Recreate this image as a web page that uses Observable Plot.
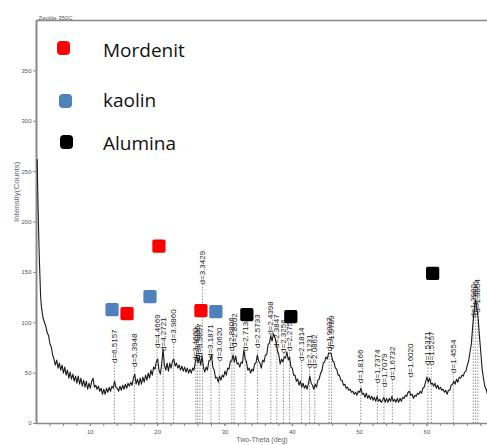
<!DOCTYPE html>
<html><head><meta charset="utf-8">
<script src="https://cdn.jsdelivr.net/npm/d3@7"></script>
<script src="https://cdn.jsdelivr.net/npm/@observablehq/plot@0.6"></script>
<style>
body{margin:0;background:#fff;}
#wrap{position:relative;width:487px;height:445px;overflow:hidden;}
.lg-mark{position:absolute;width:13px;height:14px;border-radius:4px;}
.lg-text{position:absolute;left:103px;font-family:"Open Sans",sans-serif;font-size:19px;line-height:20px;color:#111;white-space:nowrap;}
</style></head><body><div id="wrap"></div>
<script>
const title = "Zeolite 350C";
const xLabel = "Two-Theta (deg)";
const yLabel = "Intensity(Counts)";
const xTicks = [10, 20, 30, 40, 50, 60];
const xMinorTicks = [4,6,8,10,12,14,16,18,20,22,24,26,28,30,32,34,36,38,40,42,44,46,48,50,52,54,56,58,60,62,64,66,68];
const yTicks = [0, 50, 100, 150, 200, 250, 300, 350];

// XRD pattern [2theta, counts]
const pattern = [
[2.1,262],[2.2,225],[2.3,195],[2.4,168],[2.5,148],[2.6,128],[2.7,118],[2.85,110],[3.0,104],[3.2,100],
[3.4,96],[3.6,90],[3.8,87],[4.0,79],[4.2,76],[4.4,68],[4.6,64],[4.8,58],[5.0,63],[5.2,55],
[5.4,60],[5.6,53],[5.8,58],[6.0,50],[6.2,56],[6.4,48],[6.6,53],[6.8,45],[7.0,51],[7.2,44],
[7.4,49],[7.6,42],[7.8,47],[8.0,40],[8.2,47],[8.4,39],[8.6,45],[8.8,37],[9.0,43],[9.2,36],
[9.4,42],[9.6,34],[9.8,40],[10.0,35],[10.2,42],[10.4,45],[10.6,36],[10.8,38],[11.0,34],[11.2,37],
[11.4,32],[11.6,35],[11.8,29],[12.0,34],[12.2,29],[12.4,35],[12.6,31],[12.8,36],[13.0,32],[13.2,37],
[13.4,35],[13.6,42],[13.8,36],[14.0,35],[14.2,32],[14.4,37],[14.6,33],[14.8,38],[15.0,34],[15.2,39],
[15.4,35],[15.6,40],[15.8,37],[16.0,41],[16.2,38],[16.4,45],[16.6,49],[16.8,39],[17.0,44],[17.2,38],
[17.4,45],[17.6,39],[17.8,46],[18.0,41],[18.2,48],[18.4,43],[18.6,50],[18.8,45],[19.0,53],[19.2,48],
[19.4,56],[19.6,54],[19.8,61],[20.0,64],[20.2,53],[20.4,49],[20.6,59],[20.8,74],[21.0,58],[21.2,53],
[21.4,60],[21.6,52],[21.8,60],[22.0,55],[22.2,62],[22.4,64],[22.6,57],[22.8,60],[23.0,55],[23.2,58],
[23.4,53],[23.6,57],[23.8,52],[24.0,56],[24.2,51],[24.4,55],[24.6,50],[24.8,54],[25.0,50],[25.2,55],
[25.4,53],[25.6,61],[25.8,68],[26.0,60],[26.2,66],[26.4,58],[26.6,67],[26.8,56],[27.0,51],[27.2,56],
[27.4,53],[27.6,62],[27.8,63],[28.0,68],[28.2,56],[28.4,53],[28.6,45],[28.8,46],[29.0,41],[29.2,47],
[29.4,43],[29.6,48],[29.8,46],[30.0,52],[30.2,48],[30.4,55],[30.6,54],[30.8,62],[31.0,62],[31.2,68],
[31.4,61],[31.6,67],[31.8,59],[32.0,60],[32.2,56],[32.4,61],[32.6,60],[32.8,73],[33.0,64],[33.2,61],
[33.4,53],[33.6,55],[33.8,50],[34.0,54],[34.2,52],[34.4,59],[34.6,60],[34.8,68],[35.0,62],[35.2,60],
[35.4,55],[35.6,63],[35.8,61],[36.0,68],[36.2,68],[36.4,78],[36.6,80],[36.8,87],[37.0,82],[37.2,89],
[37.4,86],[37.6,81],[37.8,72],[38.0,68],[38.2,59],[38.4,64],[38.6,61],[38.8,66],[39.0,65],[39.2,71],
[39.4,63],[39.6,66],[39.8,56],[40.0,55],[40.2,48],[40.4,48],[40.6,42],[40.8,44],[41.0,38],[41.2,42],
[41.4,36],[41.6,40],[41.8,35],[42.0,38],[42.2,34],[42.4,40],[42.6,47],[42.8,40],[43.0,38],[43.2,34],
[43.4,39],[43.6,36],[43.8,43],[44.0,44],[44.2,50],[44.4,52],[44.6,60],[44.8,61],[45.0,66],[45.2,64],
[45.4,70],[45.6,70],[45.8,69],[46.0,62],[46.2,61],[46.4,55],[46.6,54],[46.8,48],[47.0,48],[47.2,43],
[47.4,43],[47.6,38],[47.8,39],[48.0,35],[48.2,36],[48.4,33],[48.6,34],[48.8,31],[49.0,32],[49.2,29],
[49.4,31],[49.6,28],[49.8,32],[50.0,31],[50.2,35],[50.4,29],[50.6,30],[50.8,26],[51.0,30],[51.2,25],
[51.4,28],[51.6,24],[51.8,27],[52.0,23],[52.2,26],[52.4,22],[52.6,27],[52.8,22],[53.0,24],[53.2,21],
[53.4,23],[53.6,26],[53.8,21],[54.0,25],[54.2,21],[54.4,25],[54.6,22],[54.8,27],[55.0,22],[55.2,24],
[55.4,21],[55.6,25],[55.8,21],[56.0,25],[56.2,22],[56.4,26],[56.6,25],[56.8,28],[57.0,27],[57.2,31],
[57.4,32],[57.6,28],[57.8,29],[58.0,25],[58.2,28],[58.4,27],[58.6,30],[58.8,29],[59.0,32],[59.2,30],
[59.4,35],[59.6,36],[59.8,41],[60.0,46],[60.2,41],[60.4,45],[60.6,39],[60.8,40],[61.0,37],[61.2,40],
[61.4,35],[61.6,38],[61.8,34],[62.0,36],[62.2,33],[62.4,34],[62.6,31],[62.8,33],[63.0,29],[63.2,33],
[63.4,33],[63.6,38],[63.8,39],[64.0,42],[64.2,39],[64.4,44],[64.6,41],[64.8,46],[65.0,45],[65.2,48],
[65.4,47],[65.6,51],[65.8,52],[66.0,58],[66.2,62],[66.4,71],[66.6,79],[66.8,96],[67.0,111],[67.2,123],
[67.4,116],[67.6,105],[67.8,87],[68.0,71],[68.2,54],[68.4,45],[68.6,37],[68.8,34],[69.0,29]
];

// d-spacing peak markers
const peakTheta = [13.56,16.53,19.90,20.83,22.37,25.68,25.93,26.27,26.67,27.91,29.14,31.02,31.36,33.00,34.84,36.81,37.70,38.69,39.58,41.36,42.55,43.34,45.46,45.82,50.17,52.64,53.62,54.87,57.48,60.15,60.65,63.92,66.88,67.23,67.57];
const peakLabel = ["d=6.5157","d=5.3948","d=4.4669","d=4.2721","d=3.9860","d=3.4660","d=3.4335","d=3.3897","d=3.3429","d=3.1871","d=3.0620","d=2.8806","d=2.8502","d=2.7138","d=2.5733","d=2.4398","d=2.3847","d=2.3256","d=2.2754","d=2.1814","d=2.1231","d=2.0862","d=1.9937","d=1.9789","d=1.8166","d=1.7374","d=1.7079","d=1.6732","d=1.6020","d=1.5371","d=1.5257","d=1.4554","d=1.3982","d=1.3916","d=1.3854"];
const peakLabelBase = [60,56,75,72,80,62,64,66,138,65,62,72,76,72,75,88,75,70,72,62,55,55,72,74,40,40,36,43,46,58,58,50,105,108,110];

// phase identification markers
const phaseNames = ["Mordenit", "kaolin", "Alumina"];
const phaseColors = ["#ff0000", "#4f81bd", "#000000"];
const mordenitTheta = [15.45, 20.19, 26.43];
const mordenitCounts = [109, 176, 112];
const kaolinTheta = [13.22, 18.86, 28.65];
const kaolinCounts = [113, 126, 111];
const aluminaTheta = [33.25, 39.78, 60.85];
const aluminaCounts = [108, 106, 149];

const peaks = peakTheta.map((t, i) => ({theta: t, label: peakLabel[i], base: peakLabelBase[i]}));
const markers = [
  ...mordenitTheta.map((t, i) => ({theta: t, counts: mordenitCounts[i], phase: phaseNames[0]})),
  ...kaolinTheta.map((t, i) => ({theta: t, counts: kaolinCounts[i], phase: phaseNames[1]})),
  ...aluminaTheta.map((t, i) => ({theta: t, counts: aluminaCounts[i], phase: phaseNames[2]}))
];

const axisColor = "#8a8a8a";
const chart = Plot.plot({
  width: 487, height: 445,
  marginLeft: 36, marginRight: 0, marginTop: 20, marginBottom: 22,
  x: {domain: [2, 69]},
  y: {domain: [0, 400]},
  color: {domain: phaseNames, range: phaseColors},
  style: {fontFamily: "'Liberation Sans', Arial, sans-serif", background: "#fff", overflow: "visible"},
  marks: [
    Plot.axisX({ticks: xMinorTicks, tickFormat: () => "", tickSize: 3, stroke: axisColor, label: null}),
    Plot.axisX({ticks: xTicks, tickSize: 3, tickPadding: 3, fontSize: 6, fill: "#555", stroke: axisColor, label: null}),
    Plot.axisY({ticks: yTicks, tickSize: 3, tickPadding: 2, fontSize: 6, fill: "#555", stroke: axisColor, label: null}),
    Plot.ruleY([400], {stroke: axisColor, strokeWidth: 1.5}),
    Plot.ruleY([0], {stroke: axisColor, strokeWidth: 1.5}),
    Plot.ruleX([2], {stroke: axisColor, strokeWidth: 2}),
    Plot.ruleX(peaks, {x: "theta", y1: 0, y2: "base", stroke: "#777", strokeWidth: 0.8, strokeDasharray: "1.5,1.5"}),
    Plot.line(pattern, {x: d => d[0], y: d => d[1], stroke: "#1a1a1a", strokeWidth: 1.1}),
    Plot.text(peaks, {x: "theta", y: "base", text: "label", rotate: -90, textAnchor: "start", fontSize: 8, fill: "#222"}),
    Plot.dot(markers, {x: "theta", y: "counts", fill: "phase", stroke: "phase", symbol: "square", r: 5.5, strokeWidth: 3.5, strokeLinejoin: "round"}),
    Plot.text([title], {frameAnchor: "top-left", dx: 2, dy: -5, textAnchor: "start", fontSize: 6, fill: "#555"}),
    Plot.text([yLabel], {frameAnchor: "left", dx: -20, rotate: -90, fontSize: 8, fill: "#666"}),
    Plot.text([xLabel], {frameAnchor: "bottom", dy: 18, fontSize: 7, fill: "#666"})
  ]
});
const wrap = document.getElementById("wrap");
wrap.appendChild(chart);

// legend overlay (inside plot frame, top-left)
const markTops = [41, 94, 135];
const markLefts = [57, 59, 60];
const textTops = [40, 90, 133];
phaseNames.forEach((name, i) => {
  const m = document.createElement("div");
  m.className = "lg-mark";
  m.style.background = phaseColors[i];
  m.style.left = markLefts[i] + "px";
  m.style.top = markTops[i] + "px";
  wrap.appendChild(m);
  const t = document.createElement("div");
  t.className = "lg-text";
  t.style.top = textTops[i] + "px";
  t.textContent = name;
  wrap.appendChild(t);
});
</script>
</body></html>
